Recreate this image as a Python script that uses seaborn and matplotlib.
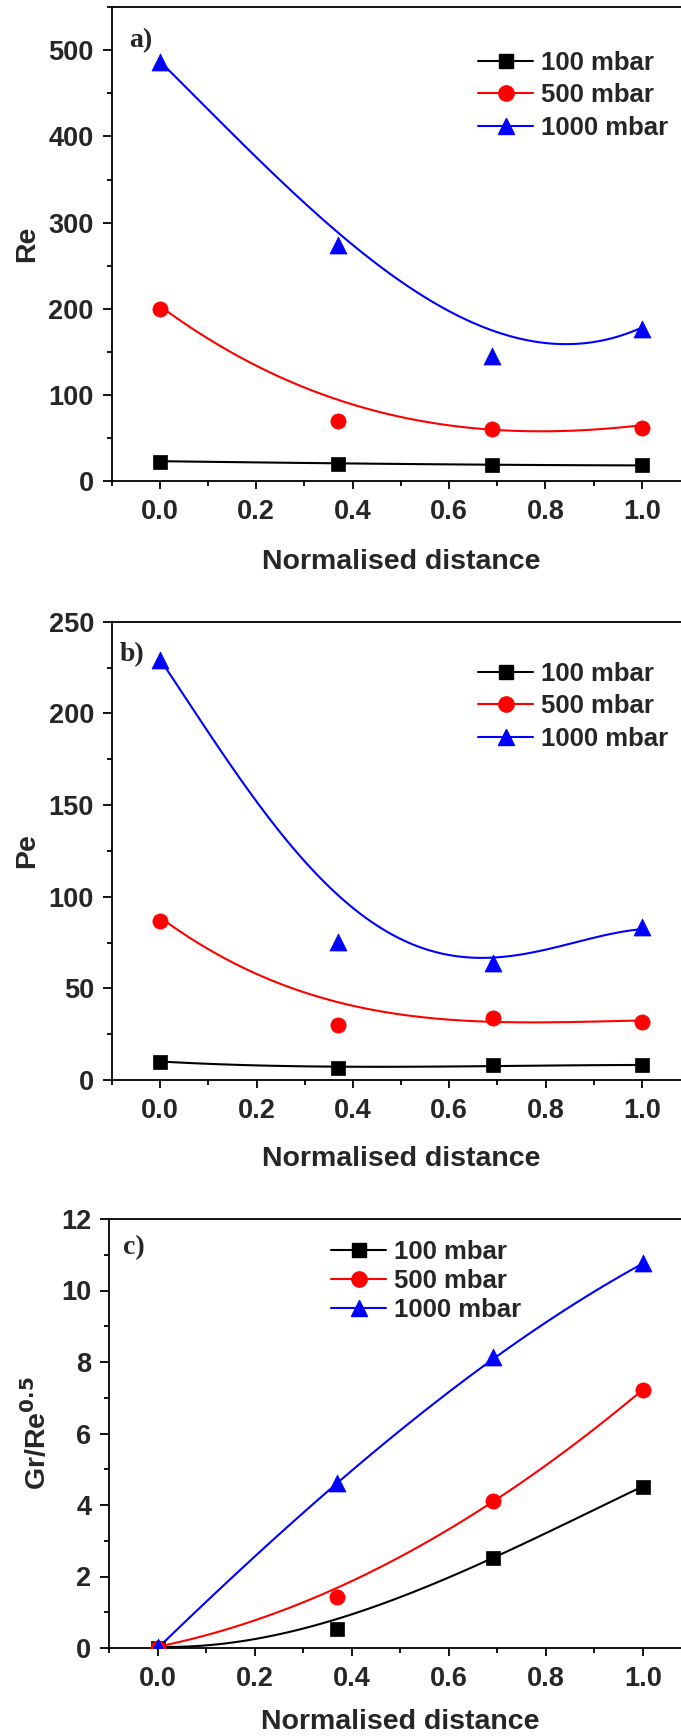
import numpy as np
import pandas as pd
import matplotlib
matplotlib.use("Agg")
import matplotlib.pyplot as plt
from matplotlib.lines import Line2D
from matplotlib.ticker import MultipleLocator
import seaborn as sns

# ---------------- data ----------------
distance = [0.0, 0.37, 0.69, 1.0]
curve_x = [0.0, 0.1, 0.2, 0.3, 0.4, 0.5, 0.6, 0.7, 0.8, 0.9, 1.0]
series_labels = ["100 mbar", "500 mbar", "1000 mbar"]

# a) Reynolds number
re_100 = [22.5, 19.9, 18.6, 18.6]
re_500 = [200, 70, 60.5, 62]
re_1000 = [487, 274, 145, 177]
re_curve_100 = [23, 22.3, 21.6, 21.0, 20.3, 19.8, 19.3, 18.9, 18.5, 18.3, 18.1]
re_curve_500 = [200, 168, 138, 110, 84, 71, 64, 61, 60.5, 61, 62.6]
re_curve_1000 = [486, 432, 378, 324, 272, 231, 196, 172, 162, 164, 176]

# b) Peclet number
pe_100 = [9.9, 6.3, 8.1, 8.1]
pe_500 = [87, 30, 33.8, 31.7]
pe_1000 = [229, 75.5, 64, 83.5]
pe_curve_100 = [9.9, 9.0, 8.2, 7.5, 7.0, 7.0, 7.3, 7.8, 8.0, 8.1, 8.1]
pe_curve_500 = [87, 73, 60, 48, 38, 34, 33, 33, 32.5, 32, 31.7]
pe_curve_1000 = [229, 190, 153, 119, 92, 77, 69, 68, 71, 76, 83]

# c) Gr/Re^0.5
gr_100 = [0.0, 0.53, 2.53, 4.51]
gr_500 = [0.0, 1.44, 4.10, 7.21]
gr_1000 = [0.03, 4.62, 8.15, 10.77]
gr_curve_100 = [0.0, 0.1, 0.3, 0.55, 0.9, 1.4, 1.95, 2.6, 3.25, 3.88, 4.5]
gr_curve_500 = [0.0, 0.4, 0.8, 1.3, 1.85, 2.5, 3.3, 4.2, 5.15, 6.15, 7.2]
gr_curve_1000 = [0.0, 1.3, 2.55, 3.8, 4.95, 6.1, 7.15, 8.2, 9.1, 9.95, 10.77]

x_ticks = [0.0, 0.2, 0.4, 0.6, 0.8, 1.0]

# ---------------- style ----------------
sns.set_theme(style="ticks")
plt.rcParams["font.family"] = ["Liberation Sans", "DejaVu Sans"]
plt.rcParams["font.weight"] = "bold"
plt.rcParams["axes.labelweight"] = "bold"
plt.rcParams["axes.linewidth"] = 1.3
plt.rcParams["mathtext.default"] = "bf"

colors = ["#000000", "#ff0000", "#0000ff"]
markers = ["s", "o", "^"]
msizes = [100, 120, 150]

W, H = 681, 1736
fig = plt.figure(figsize=(W / 100, H / 100), dpi=100)


def px_axes(left, top, right, bottom):
    return [left / W, 1 - bottom / H, (right - left) / W, (bottom - top) / H]


panels = [
    dict(rect=px_axes(111.7, 7.3, 690, 481), ylim=(0, 550), ymaj=100, ymin=50,
         ylabel="Re", tag="a)", tagpos=(129, 41), pts=[re_100, re_500, re_1000],
         curves=[re_curve_100, re_curve_500, re_curve_1000], orders=[3, 3, 3],
         leg=(478, 51), legsp=0.33, ylab_x=40, labelpad=17),
    dict(rect=px_axes(112, 621.7, 690, 1080), ylim=(0, 250), ymaj=50, ymin=25,
         ylabel="Pe", tag="b)", tagpos=(120, 655), pts=[pe_100, pe_500, pe_1000],
         curves=[pe_curve_100, pe_curve_500, pe_curve_1000], orders=[3, 3, 4],
         leg=(478, 662), legsp=0.33, ylab_x=40, labelpad=16),
    dict(rect=px_axes(109.3, 1219, 691.5, 1648), ylim=(0, 12), ymaj=2, ymin=1,
         ylabel="Gr/Re$^{\\mathbf{0.5}}$", tag="c)", tagpos=(123, 1248),
         pts=[gr_100, gr_500, gr_1000],
         curves=[gr_curve_100, gr_curve_500, gr_curve_1000], orders=[3, 3, 3],
         leg=(331, 1240), legsp=0.2, ylab_x=52, labelpad=12),
]

for p in panels:
    ax = fig.add_axes(p["rect"])
    for i in range(3):
        sns.regplot(x=np.array(curve_x), y=np.array(p["curves"][i]),
                    order=p["orders"][i], ci=None, scatter=False, truncate=True,
                    ax=ax, line_kws=dict(color=colors[i], lw=1.5, zorder=2))
        sns.scatterplot(x=distance, y=p["pts"][i], marker=markers[i], s=msizes[i],
                        color=colors[i], edgecolor=colors[i], linewidth=0.5,
                        ax=ax, zorder=3, legend=False)
    ax.set_xlim(-0.1, 1.1)
    ax.set_ylim(*p["ylim"])
    ax.set_xticks(x_ticks)
    ax.set_xticklabels([f"{t:.1f}" for t in x_ticks])
    ax.xaxis.set_minor_locator(MultipleLocator(0.1))
    ax.yaxis.set_major_locator(MultipleLocator(p["ymaj"]))
    ax.yaxis.set_minor_locator(MultipleLocator(p["ymin"]))
    ax.tick_params(axis="both", which="both", direction="out", top=False, right=False,
                   color="black", width=1.3)
    ax.tick_params(axis="y", which="major", length=6.5, pad=6.5, labelsize=19.5)
    ax.tick_params(axis="x", which="major", length=5.5, pad=7.5, labelsize=19.5)
    ax.tick_params(axis="both", which="minor", length=3.5)
    for s in ["top", "left", "bottom", "right"]:
        ax.spines[s].set_visible(True)
        ax.spines[s].set_color("black")
    ax.set_xlabel("Normalised distance", fontsize=20.5, fontweight="bold",
                  labelpad=p["labelpad"])
    ax.set_ylabel(p["ylabel"], fontsize=20.5, fontweight="bold")
    axw = p["rect"][2] * W
    ax.yaxis.set_label_coords((p["ylab_x"] - p["rect"][0] * W) / axw, 0.5)
    for lab in ax.get_xticklabels() + ax.get_yticklabels():
        lab.set_fontweight("bold")
    ax.set_facecolor("white")

    fig.text(p["tagpos"][0] / W, 1 - p["tagpos"][1] / H, p["tag"], fontsize=20,
             fontweight="bold", family=["Liberation Serif", "DejaVu Serif"],
             ha="left", va="center")

    handles = [Line2D([], [], color=colors[i], marker=markers[i], lw=1.5,
                      markersize=[10, 11, 12][i], markeredgecolor=colors[i])
               for i in range(3)]
    ax.legend(handles, series_labels, loc="upper left",
              bbox_to_anchor=(p["leg"][0] / W, 1 - p["leg"][1] / H),
              bbox_transform=fig.transFigure, frameon=False,
              prop=dict(weight="bold", size=18.5), handlelength=2.15,
              handletextpad=0.3, labelspacing=p["legsp"], borderpad=0,
              borderaxespad=0)

fig.savefig("out.png", dpi=100, facecolor="white")
